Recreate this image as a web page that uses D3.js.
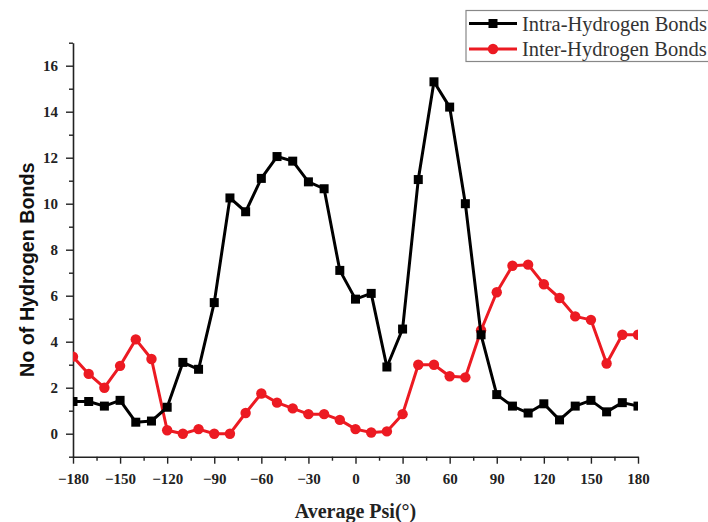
<!DOCTYPE html>
<html>
<head>
<meta charset="utf-8">
<script src="https://cdn.jsdelivr.net/npm/d3@7/dist/d3.min.js"></script>
<style>
  html, body { margin: 0; padding: 0; background: #fff; }
  svg { display: block; }
</style>
</head>
<body>
<svg id="chart" width="708" height="522"></svg>
<script>
// Psi angles (degrees), sampled every 10°
const psi = d3.range(-180, 181, 10);

// Intramolecular hydrogen bonds per Psi bin
const intraBonds = [
  1.4, 1.4, 1.2, 1.45, 0.5, 0.55, 1.15, 3.1, 2.8, 5.7,
  10.25, 9.65, 11.1, 12.05, 11.85, 10.95, 10.65, 7.1, 5.85, 6.1,
  2.9, 4.55, 11.05, 15.3, 14.2, 10.0, 4.3, 1.7, 1.2, 0.9,
  1.3, 0.6, 1.2, 1.45, 0.95, 1.35, 1.2
];

// Intermolecular hydrogen bonds per Psi bin
const interBonds = [
  3.35, 2.6, 2.0, 2.95, 4.1, 3.25, 0.15, 0.0, 0.2, 0.0,
  0.0, 0.9, 1.75, 1.35, 1.1, 0.85, 0.85, 0.6, 0.2, 0.05,
  0.1, 0.85, 3.0, 3.0, 2.5, 2.45, 4.5, 6.15, 7.3, 7.35,
  6.5, 5.9, 5.1, 4.95, 3.05, 4.3, 4.3
];

const xTicks = d3.range(-180, 181, 30);
const xMinorTicks = d3.range(-165, 180, 30);
const yTicks = [0, 2, 4, 6, 8, 10, 12, 14, 16];
const yMinorTicks = [-1, 1, 3, 5, 7, 9, 11, 13, 15, 17];

const seriesNames = ["Intra-Hydrogen Bonds", "Inter-Hydrogen Bonds"];
const seriesColors = ["#000000", "#ec1a22"];

const svg = d3.select("#chart");
const plotLeft = 73, plotRight = 638, plotTop = 42.7, plotBottom = 456.7;

const x = d3.scaleLinear().domain([-180, 180]).range([plotLeft, plotRight]);
const y = d3.scaleLinear().domain([-1, 17]).range([plotBottom, plotTop]);

const tickFont = "'Liberation Serif', 'Times New Roman', serif";

// Clip marks to the plotting area
svg.append("defs").append("clipPath").attr("id", "plot-clip")
  .append("rect")
  .attr("x", plotLeft).attr("y", plotTop - 10)
  .attr("width", plotRight - plotLeft).attr("height", plotBottom - plotTop + 10);

// X axis
svg.append("g")
  .attr("transform", `translate(0,${plotBottom})`)
  .call(d3.axisBottom(x).tickValues(xTicks).tickSize(7).tickSizeOuter(0).tickPadding(10));
svg.append("g")
  .attr("transform", `translate(0,${plotBottom})`)
  .call(d3.axisBottom(x).tickValues(xMinorTicks).tickSize(4).tickSizeOuter(0).tickFormat(""))
  .call(g => g.select(".domain").remove());

// Y axis
svg.append("g")
  .attr("transform", `translate(${plotLeft},0)`)
  .call(d3.axisLeft(y).tickValues(yTicks).tickSize(7).tickSizeOuter(0).tickPadding(8));
svg.append("g")
  .attr("transform", `translate(${plotLeft},0)`)
  .call(d3.axisLeft(y).tickValues(yMinorTicks).tickSize(4).tickSizeOuter(0).tickFormat(""))
  .call(g => g.select(".domain").remove());

svg.selectAll(".domain").attr("stroke", "#222").attr("stroke-width", 1.6);
svg.selectAll(".tick line").attr("stroke", "#222").attr("stroke-width", 1.4);
svg.selectAll(".tick text")
  .attr("fill", "#222")
  .style("font-family", tickFont)
  .style("font-weight", "bold")
  .style("font-size", "15px");

// Axis titles
svg.append("text")
  .attr("x", (plotLeft + plotRight) / 2)
  .attr("y", 518)
  .attr("text-anchor", "middle")
  .style("font-family", tickFont)
  .style("font-weight", "bold")
  .style("font-size", "20px")
  .attr("fill", "#222")
  .text("Average Psi(°)");

svg.append("text")
  .attr("transform", `translate(34,${(plotTop + plotBottom) / 2 + 20}) rotate(-90)`)
  .attr("text-anchor", "middle")
  .style("font-family", "'Liberation Sans', Arial, sans-serif")
  .style("font-weight", "bold")
  .style("font-size", "19.7px")
  .attr("fill", "#111")
  .text("No of Hydrogen Bonds");

// Series
const line = d3.line().x(d => x(d[0])).y(d => y(d[1]));
const plot = svg.append("g").attr("clip-path", "url(#plot-clip)");

function drawSeries(values, color, shape) {
  const pts = psi.map((p, i) => [p, values[i]]);
  plot.append("path")
    .datum(pts)
    .attr("fill", "none")
    .attr("stroke", color)
    .attr("stroke-width", 3)
    .attr("stroke-linejoin", "round")
    .attr("d", line);
  if (shape === "square") {
    plot.selectAll(null).data(pts).enter().append("rect")
      .attr("x", d => x(d[0]) - 4.5)
      .attr("y", d => y(d[1]) - 4.5)
      .attr("width", 9).attr("height", 9)
      .attr("fill", color);
  } else {
    plot.selectAll(null).data(pts).enter().append("circle")
      .attr("cx", d => x(d[0]))
      .attr("cy", d => y(d[1]))
      .attr("r", 5.2)
      .attr("fill", color);
  }
}

drawSeries(interBonds, seriesColors[1], "circle");
drawSeries(intraBonds, seriesColors[0], "square");

// Legend
const legend = svg.append("g");
legend.append("rect")
  .attr("x", 466).attr("y", 10.5)
  .attr("width", 250).attr("height", 51)
  .attr("fill", "#fff")
  .attr("stroke", "#888").attr("stroke-width", 1.2);

seriesNames.forEach((name, i) => {
  const ly = 23.5 + i * 25.5;
  legend.append("line")
    .attr("x1", 469).attr("x2", 517)
    .attr("y1", ly).attr("y2", ly)
    .attr("stroke", seriesColors[i]).attr("stroke-width", 3);
  if (i === 0) {
    legend.append("rect")
      .attr("x", 493 - 4.5).attr("y", ly - 4.5)
      .attr("width", 9).attr("height", 9)
      .attr("fill", seriesColors[i]);
  } else {
    legend.append("circle")
      .attr("cx", 493).attr("cy", ly).attr("r", 5.2)
      .attr("fill", seriesColors[i]);
  }
  legend.append("text")
    .attr("x", 522).attr("y", ly + 7)
    .style("font-family", tickFont)
    .style("font-size", "20.5px")
    .attr("fill", "#333")
    .text(name);
});
</script>
</body>
</html>
